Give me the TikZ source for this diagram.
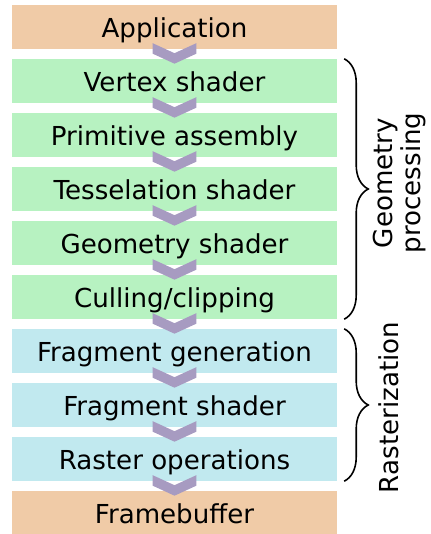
\documentclass[tikz,border=0pt]{standalone}
\usepackage{fontspec}
\setmainfont{DejaVu Sans}
\usetikzlibrary{calc,decorations.pathreplacing}
\definecolor{appcol}{RGB}{240,203,167}
\definecolor{geocol}{RGB}{183,242,193}
\definecolor{rascol}{RGB}{193,233,239}
\definecolor{chevcol}{RGB}{167,155,193}
\tikzset{
  stage/.style={minimum width=325bp, minimum height=44bp, inner sep=0pt,
    text height=24.5bp, text depth=3bp, font=\fontsize{26.2}{30}\selectfont},
  appbox/.style={stage, fill=appcol},
  geobox/.style={stage, fill=geocol},
  rasbox/.style={stage, fill=rascol},
  chev/.style={fill=chevcol},
  grpbrace/.style={line width=1.6pt, decorate, decoration={brace, amplitude=24bp}},
  grplabel/.style={rotate=90, anchor=base, inner sep=0pt, font=\fontsize{26.2}{30}\selectfont}
}
\begin{document}
\begin{tikzpicture}[x=1bp, y=-1bp]
\useasboundingbox (0,0) rectangle (430,534);
\node[appbox] (b0) at (174.5,27) {Application};
\node[geobox] (b1) at (174.5,81) {Vertex shader};
\node[geobox] (b2) at (174.5,135) {Primitive assembly};
\node[geobox] (b3) at (174.5,189) {Tesselation shader};
\node[geobox] (b4) at (174.5,243) {Geometry shader};
\node[geobox] (b5) at (174.5,297) {Culling/clipping};
\node[rasbox] (b6) at (174.5,351) {Fragment generation};
\node[rasbox] (b7) at (174.5,405) {Fragment shader};
\node[rasbox] (b8) at (174.5,459) {Raster operations};
\node[appbox] (b9) at (174.5,513) {Framebuffer};
\foreach \i in {0,...,8} {
  \fill[chev] (b\i.south) ++(-21.8,-6) -- ++(21.8,10) -- ++(21.8,-10) -- ++(0,10.5)
     -- ++(-21.8,10) -- ++(-21.8,-10) -- cycle;
}
\coordinate (g1) at ($(b1.north east)+(7,0)$);
\coordinate (g2) at ($(b5.south east)+(7,0)$);
\coordinate (r1) at ($(b6.north east)+(7,0)$);
\coordinate (r2) at ($(b8.south east)+(7,0)$);
\draw[grpbrace] (g1) -- (g2);
\draw[grpbrace] (r1) -- (r2);
\node[grplabel] (lg1) at (392.5,183) {Geometry};
\node[grplabel] (lg2) at (420.5,183) {processing};
\node[grplabel] (lr) at (398.7,407.5) {Rasterization};
\end{tikzpicture}
\end{document}
